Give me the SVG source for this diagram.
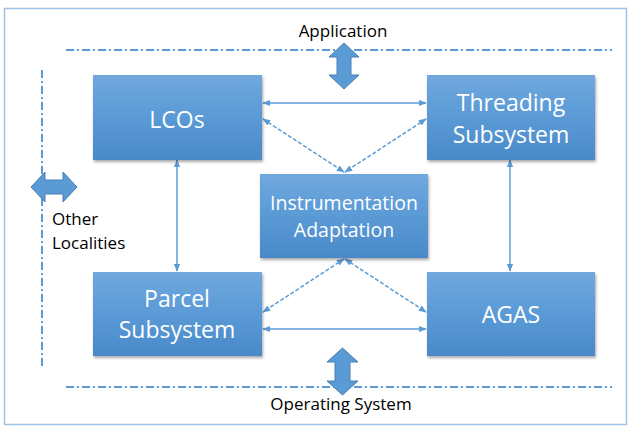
<svg xmlns="http://www.w3.org/2000/svg" width="628" height="426" viewBox="0 0 628 426">
<defs>
<linearGradient id="bg" x1="0" y1="0" x2="0" y2="1">
<stop offset="0" stop-color="#71a8de"/>
<stop offset="0.5" stop-color="#5a9ad6"/>
<stop offset="1" stop-color="#4a89c9"/>
</linearGradient>
<filter id="sh" x="-10%" y="-10%" width="130%" height="130%">
<feGaussianBlur in="SourceAlpha" stdDeviation="1.5"/>
<feOffset dx="1" dy="2" result="o"/>
<feComponentTransfer><feFuncA type="linear" slope="0.35"/></feComponentTransfer>
<feMerge><feMergeNode/><feMergeNode in="SourceGraphic"/></feMerge>
</filter>
<marker id="ah" viewBox="0 0 10 10" refX="9" refY="5" markerWidth="8" markerHeight="8" markerUnits="userSpaceOnUse" orient="auto-start-reverse">
<path d="M0,1 L10,5 L0,9 z" fill="#5b9bd5"/>
</marker>
<style>
.box{fill:url(#bg);filter:url(#sh)}
.bt{fill:#fff;font-family:"Open Sans","Liberation Sans",sans-serif;text-anchor:middle}
.lbl{fill:#000;font-family:"Open Sans","Liberation Sans",sans-serif;font-size:17px}
.dd{fill:none;stroke:#5b9bd5;stroke-width:2;stroke-dasharray:8 3 2 3}
.c{fill:none;stroke:#5b9bd5;stroke-width:1.5;marker-start:url(#ah);marker-end:url(#ah)}
.cd{stroke-dasharray:4 2}
.blk{fill:#5b9bd5;stroke:#4a7fb5;stroke-width:1}
</style>
</defs>
<rect x="0" y="0" width="628" height="426" fill="#fff"/>
<rect x="4.5" y="8.5" width="622" height="416" fill="none" stroke="#9dc3e6" stroke-width="1.5"/>

<g id="boundaries">
<line class="dd" x1="66" y1="50" x2="612" y2="50"/>
<line class="dd" x1="66" y1="387" x2="612" y2="387"/>
<line class="dd" x1="42" y1="70" x2="42" y2="366"/>
</g>

<g id="application">
<text class="lbl" x="343" y="37" text-anchor="middle">Application</text>
<path class="blk" d="M344,43 L359,57 L351,57 L351,75 L359,75 L344,89 L329,75 L337,75 L337,57 L329,57 Z"/>
</g>
<g id="operating-system">
<text class="lbl" x="341" y="410" text-anchor="middle">Operating System</text>
<path class="blk" d="M342.5,348 L358,362 L350,362 L350,381 L358,381 L342.5,395 L327,381 L335,381 L335,362 L327,362 Z"/>
</g>
<g id="other-localities">
<path class="blk" d="M31,187 L45,172 L45,180 L63,180 L63,172 L77,187 L63,202 L63,194 L45,194 L45,202 Z"/>
<text class="lbl" x="52" y="225">Other</text>
<text class="lbl" x="52" y="249">Localities</text>
</g>

<g id="connectors">
<line class="c" x1="263" y1="103" x2="426" y2="103"/>
<line class="c" x1="263" y1="329" x2="426" y2="329"/>
<line class="c" x1="177" y1="160" x2="177" y2="271"/>
<line class="c" x1="510" y1="160" x2="510" y2="271"/>
<line class="c cd" x1="263" y1="119" x2="344" y2="172"/>
<line class="c cd" x1="426" y1="119" x2="345" y2="172"/>
<line class="c cd" x1="344" y1="259" x2="263" y2="312"/>
<line class="c cd" x1="345" y1="259" x2="426" y2="312"/>
</g>

<g id="lcos">
<rect class="box" x="93" y="75" width="169" height="85"/>
<text class="bt" x="177" y="128" font-size="23">LCOs</text>
</g>
<g id="threading">
<rect class="box" x="427" y="75" width="168" height="85"/>
<text class="bt" x="511" y="111" font-size="23">Threading</text>
<text class="bt" x="511" y="143" font-size="23">Subsystem</text>
</g>
<g id="instrumentation">
<rect class="box" x="260" y="174" width="168" height="84"/>
<text class="bt" x="344" y="210" font-size="19.5">Instrumentation</text>
<text class="bt" x="344" y="237" font-size="19.5">Adaptation</text>
</g>
<g id="parcel">
<rect class="box" x="93" y="272" width="169" height="84"/>
<text class="bt" x="177" y="307" font-size="23">Parcel</text>
<text class="bt" x="177" y="338" font-size="23">Subsystem</text>
</g>
<g id="agas">
<rect class="box" x="427" y="272" width="168" height="84"/>
<text class="bt" x="511" y="323" font-size="23">AGAS</text>
</g>
</svg>
